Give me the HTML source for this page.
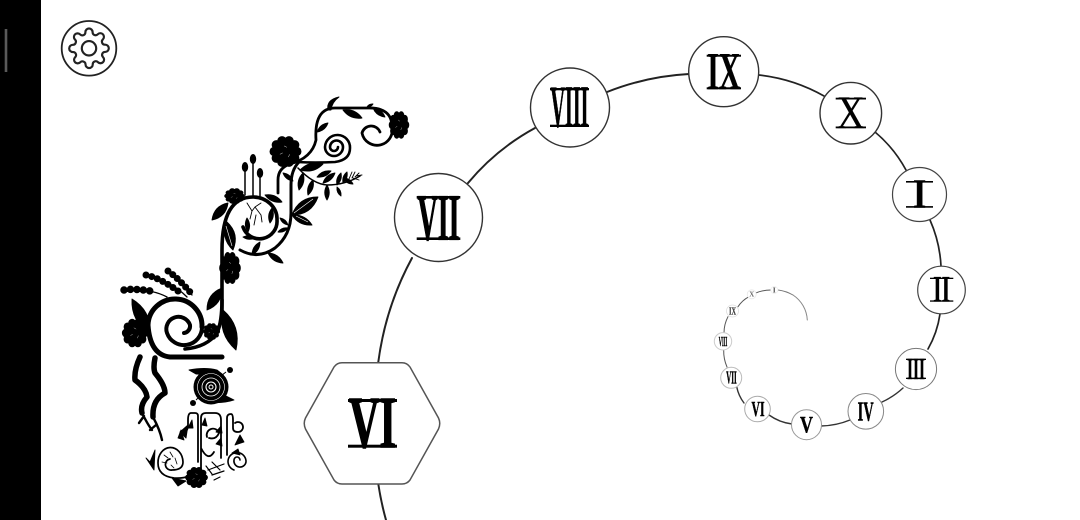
<!DOCTYPE html>
<html><head><meta charset="utf-8"><style>
html,body{margin:0;padding:0;background:#fff;width:1080px;height:520px;overflow:hidden}
svg{display:block}
.n{font-family:"Liberation Serif",serif;font-weight:bold;fill:#000;stroke:#000;text-anchor:middle}
.c{fill:#fff}
</style></head><body>
<svg width="1080" height="520" viewBox="0 0 1080 520" xmlns="http://www.w3.org/2000/svg">
<defs>
<g id="fl"><circle r="9.6"/><circle cx="8" r="3.4"/><circle cx="6.5" cy="4.7" r="3.4"/><circle cx="2.5" cy="7.6" r="3.4"/><circle cx="-2.5" cy="7.6" r="3.4"/><circle cx="-6.5" cy="4.7" r="3.4"/><circle cx="-8" r="3.4"/><circle cx="-6.5" cy="-4.7" r="3.4"/><circle cx="-2.5" cy="-7.6" r="3.4"/><circle cx="2.5" cy="-7.6" r="3.4"/><circle cx="6.5" cy="-4.7" r="3.4"/><path d="M-4 2l2-1M2 4l1-2M-1-4l2 1" stroke="#fff" stroke-width=".3" fill="none"/></g>
</defs>
<rect x="0" y="0" width="41" height="520" fill="#000"/>
<rect x="4.7" y="29" width="2.6" height="43" fill="#5a5a5a"/>

<circle cx="89" cy="48.3" r="27.3" fill="#fff" stroke="#222" stroke-width="1.8"/>
<g transform="translate(67.4,26.7) scale(1.8)" fill="none" stroke="#222" stroke-width="1.2" stroke-linejoin="round">
<path d="M19.4 15a1.65 1.65 0 0 0 .33 1.82l.06.06a2 2 0 0 1 0 2.83 2 2 0 0 1-2.83 0l-.06-.06a1.65 1.65 0 0 0-1.82-.33 1.65 1.65 0 0 0-1 1.51V21a2 2 0 0 1-2 2 2 2 0 0 1-2-2v-.09A1.65 1.65 0 0 0 9 19.4a1.65 1.65 0 0 0-1.82.33l-.06.06a2 2 0 0 1-2.83 0 2 2 0 0 1 0-2.83l.06-.06a1.65 1.65 0 0 0 .33-1.82 1.65 1.65 0 0 0-1.51-1H3a2 2 0 0 1-2-2 2 2 0 0 1 2-2h.09A1.65 1.65 0 0 0 4.6 9a1.65 1.65 0 0 0-.33-1.82l-.06-.06a2 2 0 0 1 0-2.83 2 2 0 0 1 2.83 0l.06.06a1.65 1.65 0 0 0 1.82.33H9a1.65 1.65 0 0 0 1-1.51V3a2 2 0 0 1 2-2 2 2 0 0 1 2 2v.09a1.65 1.65 0 0 0 1 1.51 1.65 1.65 0 0 0 1.82-.33l.06-.06a2 2 0 0 1 2.83 0 2 2 0 0 1 0 2.83l-.06.06a1.65 1.65 0 0 0-.33 1.82V9a1.65 1.65 0 0 0 1.51 1H21a2 2 0 0 1 2 2 2 2 0 0 1-2 2h-.09a1.65 1.65 0 0 0-1.51 1z"/>
<circle cx="12" cy="12" r="4"/>
</g>

<!-- spiral connector -->
<g fill="none" stroke="#222" stroke-linecap="round">
<g stroke-width="2">
<path d="M386 520A300 300 0 0 1 378.3 484"/>
<path d="M378.3 362A300 300 0 0 1 412 258"/>
<path d="M468 183A230 230 0 0 1 535 128"/>
<path d="M607 92A260 260 0 0 1 689 74"/>
</g>
<g stroke-width="1.7">
<path d="M759 75A170 170 0 0 1 824 96"/>
<path d="M875 132A130 130 0 0 1 906 170"/>
<path d="M930 220A130 130 0 0 1 941 266"/>
<path d="M940 314A100 100 0 0 1 928 349"/>
</g>
<g stroke-width="1.4" stroke="#333">
<path d="M903 388A80 80 0 0 1 882 402"/>
<path d="M850 420A80 80 0 0 1 821 426"/>
<path d="M792 424A50 50 0 0 1 769 415"/>
<path d="M744 403A40 40 0 0 1 736.7 386.7"/>
</g>
<g stroke-width="1" stroke="#555">
<path d="M727 367A40 40 0 0 1 723.7 350"/>
<path d="M724 332.7A35 35 0 0 1 728 316.7"/>
<path d="M738 306.7A30 30 0 0 1 749 296.7"/>
<path d="M755.7 293A40 40 0 0 1 771.7 290"/>
<path d="M778 290A40 40 0 0 1 793 295" stroke="#777"/>
<path d="M793 295A32 32 0 0 1 807.3 320" stroke="#888"/>
</g>
</g>

<!-- nodes -->
<path d="M342 362.7H402Q407 362.7 410 367L438.5 418Q441 423.3 438.5 429L410 480Q407 484 402 484H342Q337 484 334 480L305.5 429Q303 423.3 305.5 418L334 367Q337 362.7 342 362.7Z" fill="#fff" stroke="#555" stroke-width="1.5"/>
<g class="c" stroke="#333" stroke-width="1.4">
<circle cx="438.5" cy="217.5" r="44"/>
<circle cx="570" cy="107.5" r="39.5"/>
<circle cx="723.7" cy="71.7" r="35"/>
<circle cx="850.8" cy="113.2" r="30.8"/>
</g>
<g class="c" stroke="#444" stroke-width="1.2">
<circle cx="919.5" cy="194.5" r="27"/>
<circle cx="941.5" cy="290" r="23.8"/>
</g>
<g class="c">
<circle cx="916" cy="369" r="20.6" stroke="#777" stroke-width="1"/>
<circle cx="865.8" cy="411.3" r="17.8" stroke="#888" stroke-width="1"/>
<circle cx="806.5" cy="424.7" r="15" stroke="#999" stroke-width="1"/>
<circle cx="757.5" cy="409" r="12.8" stroke="#aaa" stroke-width="1"/>
<circle cx="731.2" cy="377.8" r="10.5" stroke="#bbb" stroke-width="1"/>
<circle cx="723" cy="341.3" r="8.7" stroke="#ccc" stroke-width="1"/>
<circle cx="732.5" cy="311" r="6" stroke="#ddd" stroke-width=".8"/>
<circle cx="751.7" cy="294.3" r="4.5" stroke="#e8e8e8" stroke-width=".8"/>
<circle cx="774.3" cy="290" r="3.5" stroke="#eee" stroke-width=".8"/>
</g>

<!-- numerals -->
<text class="n" stroke-width="1.6" x="372.5" y="447" font-size="73" textLength="47" lengthAdjust="spacingAndGlyphs">VI</text>
<rect x="348" y="399" width="49" height="3"/><rect x="348" y="444.7" width="49" height="3"/>
<text class="n" stroke-width="1.3" x="438.5" y="239.4" font-size="66" textLength="42" lengthAdjust="spacingAndGlyphs">VII</text>
<rect x="416.7" y="196" width="43.6" height="2.6"/><rect x="416.7" y="237.4" width="43.6" height="2.6"/>
<text class="n" stroke-width=".8" x="569.5" y="126.5" font-size="59" textLength="38" lengthAdjust="spacingAndGlyphs">VIII</text>
<rect x="550" y="88" width="39" height="2.3"/><rect x="550" y="124.7" width="39" height="2.3"/>
<text class="n" stroke-width=".5" x="723.8" y="89" font-size="53" textLength="33" lengthAdjust="spacingAndGlyphs">IX</text>
<rect x="706.7" y="54.7" width="34.3" height="2"/><rect x="706.7" y="87.3" width="34.3" height="2"/>
<text class="n" stroke-width=".3" style="font-weight:normal" x="850.8" y="128" font-size="47" textLength="28" lengthAdjust="spacingAndGlyphs">X</text>
<rect x="835.7" y="97.7" width="30.3" height="1.8"/><rect x="835.7" y="126.5" width="30.3" height="1.8"/>
<text class="n" stroke-width=".6" x="919.6" y="207.5" font-size="41" textLength="13" lengthAdjust="spacingAndGlyphs">I</text>
<rect x="906" y="181" width="27" height="1.6"/><rect x="906" y="206.1" width="27" height="1.6"/>
<text class="n" stroke-width=".2" x="941.6" y="301.7" font-size="36.6" textLength="17" lengthAdjust="spacingAndGlyphs">II</text>
<rect x="930" y="277.7" width="23.3" height="1.3"/><rect x="930" y="300.4" width="23.3" height="1.3"/>
<text class="n" stroke-width=".4" x="916" y="379" font-size="31" textLength="18" lengthAdjust="spacingAndGlyphs">III</text>
<rect x="906" y="358.7" width="20" height="1.3"/><rect x="906" y="377.7" width="20" height="1.3"/>
<text class="n" stroke-width=".5" x="865.6" y="420.3" font-size="27" textLength="16" lengthAdjust="spacingAndGlyphs">IV</text>
<text class="n" stroke-width=".4" x="806.5" y="432.5" font-size="23" textLength="13" lengthAdjust="spacingAndGlyphs">V</text>
<text class="n" stroke-width=".5" x="758" y="416" font-size="21" textLength="13" lengthAdjust="spacingAndGlyphs">VI</text>
<text class="n" stroke-width=".5" x="731.5" y="383.7" font-size="17.5" textLength="10.5" lengthAdjust="spacingAndGlyphs">VII</text>
<text class="n" stroke-width=".4" x="723" y="346" font-size="13.7" textLength="8.5" lengthAdjust="spacingAndGlyphs">VIII</text>
<text class="n" stroke-width=".2" x="732.5" y="314.5" font-size="10.7" textLength="7" lengthAdjust="spacingAndGlyphs" opacity=".8">IX</text>
<text class="n" stroke-width="0" x="751.7" y="296.5" font-size="7.6" textLength="5" lengthAdjust="spacingAndGlyphs" opacity=".6">X</text>
<text class="n" stroke-width="0" x="774.3" y="292.5" font-size="7.6" textLength="3" lengthAdjust="spacingAndGlyphs" opacity=".7">I</text>

<!-- botanical vines -->
<g fill="none" stroke="#000" stroke-linecap="round" stroke-linejoin="round">
<path stroke-width="2.8" d="M278 193V180Q278 168 290 164Q312 158 316 140Q314 108 335 108H367Q392 107 392 127A15 15 0 0 1 362 133A9.5 9.5 0 0 1 380 132"/>
<path stroke-width="2.6" d="M297 162Q315 163 335 162Q350 160 350 148A12.5 12.5 0 0 0 325 147A9 9 0 0 0 343 147A6.5 6.5 0 0 0 330 147A4 4 0 0 0 338 147"/>
<path stroke-width="3" d="M299 162Q291 170 291 185V213Q291 235 275 248Q258 260 240 250"/>
<path stroke-width="3.6" d="M222 312V250C222 215 232 197 253 197A24 22 0 0 1 277 220A17.5 17.5 0 0 1 243 227"/>
<path stroke-width="1.5" d="M298 168Q313 184 327 185Q345 185 360 176M245 170V195M253 161V195M260 175V196"/>
<path stroke-width=".9" d="M349 179l3-7M352 178l3-6M355 177l4-4M353 178l6 2M356 176l6-1M247 203l5 8 3-4 6-4M252 211l-2 8M255 207l6 8 1 7M256 215l-2 10"/>
<path stroke-width="5" d="M222 357H170Q150 355 148 325A27 27 0 0 1 202 327"/>
<path stroke-width="4" d="M202 327A18 18 0 0 1 167 333A12 12 0 0 1 190 325A7 7 0 0 1 184 333"/>
<path stroke-width="3.6" d="M185 349Q207 347 217 333Q222 322 222 300"/>
<path stroke-width="1.3" d="M123 290Q150 288 167 297M145 275Q170 280 187 297M168 270Q182 280 192 295"/>
<path stroke-width="7.5" stroke-dasharray="0 6.5" d="M124 290Q135 288 156 292"/>
<path stroke-width="7" stroke-dasharray="0 6" d="M146 275Q160 278 178 291"/>
<path stroke-width="7" stroke-dasharray="0 6" d="M168 271Q178 278 190 292"/>
<path stroke-width="5.5" d="M140 357Q134 370 135 380Q146 388 147 397Q140 405 142 413"/>
<path stroke-width="2.4" d="M142 413Q148 425 152 430M144 416L139 423"/>
<path stroke-width="5.5" d="M155 358Q153 368 155 373Q165 385 165 393Q152 400 153 417"/>
<path stroke-width="2.4" d="M153 417Q160 430 162 440M156 425L150 430"/>
<path stroke-width="1.8" d="M201 470V418Q201 413 206 413H215Q221 413 221 420V458M198 462V416Q198 413 195 413H191Q188 413 188 420V425Q188 432 182 433M227 455V418Q227 414 231 414Q233 414 233 420V428Q233 432 238 432A5 5 0 1 0 235 423M207 437A6 6 0 1 1 219 433Q216 440 209 438M201 448Q208 462 214 452"/>
<path stroke-width="1.7" d="M199 470Q190 479 174 478Q158 476 158 463A12.5 15 0 0 1 183 462Q183 470 172 470A5 5 0 0 1 170 459"/>
<path stroke-width="1.6" d="M234 470A9 9 0 1 1 246 462A6 6 0 0 1 234 460A3 3 0 0 1 240 460"/>
<path stroke-width="1.2" d="M208 470l16-6M212 475l12-4M214 480l6-3M212 462l8 8M206 466l6 8"/>
<path stroke-width=".8" d="M164 455l4 3M170 452l3 5M175 458l2 6M162 462l5 1M171 465l3 3"/>
</g>

<g fill="#000" stroke="#000" stroke-width=".9" stroke-linejoin="round">
<path d="M328 110Q326 100 339 97Q332 102 331 110Z"/>
<path d="M343 110Q350.1 119.7 362 118Q354.9 108.3 343 110Z"/>
<path d="M367 107Q370.9 107.3 373 104Q369.1 103.7 367 107Z"/>
<path d="M373 108Q376.3 116.1 385 117Q381.7 108.9 373 108Z"/>
<path d="M317 132Q325.2 130.8 328 123Q319.8 124.2 317 132Z"/>
<path d="M300 170Q313.3 173.9 323 164Q309.7 160.1 300 170Z"/>
<path d="M283 173Q285.6 180 293 181Q290.4 174 283 173Z"/>
<path d="M317 177Q325.8 178.2 331 171Q322.2 169.8 317 177Z"/>
<path d="M323 183Q332 181.6 335 173Q326 174.4 323 183Z"/>
<path d="M303 173Q295.9 180.3 299 190Q306.1 182.7 303 173Z"/>
<path d="M313 180Q306 186 308 195Q315 189 313 180Z"/>
<path d="M327 185Q322.5 192.5 327 200Q331.5 192.5 327 185Z"/>
<path d="M337 187Q336.3 192.7 341 196Q341.7 190.3 337 187Z"/>
<path d="M337 185Q342.6 180.2 341 173Q335.4 177.8 337 185Z"/>
<path d="M343 183Q348.3 178.7 347 172Q341.7 176.3 343 183Z"/>
<path d="M343 178Q346.2 184 353 184Q349.8 178 343 178Z"/>
<path d="M292 215Q311.3 215.1 318 197Q298.7 196.9 292 215Z"/>
<path d="M292 215Q299 226 312 225Q305 214 292 215Z"/>
<path d="M280 218Q281.9 223.9 288 225Q286.1 219.1 280 218Z"/>
<path d="M278 232Q284.2 233 288 228Q281.8 227 278 232Z"/>
<path d="M268 253Q272.5 262.5 283 263Q278.5 253.5 268 253Z"/>
<path d="M252 255Q259.9 250.9 260 242Q252.1 246.1 252 255Z"/>
<path d="M243 237Q248.7 241.1 255 238Q249.3 233.9 243 237Z"/>
<path d="M227 222Q220.2 238.1 233 250Q239.8 233.9 227 222Z"/>
<path d="M212 220Q226 217.1 228 203Q214 205.9 212 220Z"/>
<path d="M265 195Q271.4 203.6 282 202Q275.6 193.4 265 195Z"/>
<path d="M247 218Q243.3 225.3 248 232Q251.7 224.7 247 218Z"/>
<path d="M272 208Q266.5 214.9 270 223Q275.5 216.1 272 208Z"/>
<path d="M207 310Q222.2 304.25 222 288Q206.8 293.75 207 310Z"/>
<path d="M223 310Q217.5 333.9 236 350Q241.5 326.1 223 310Z"/>
<path d="M132 299Q130.8 321.4 150 333Q151.2 310.6 132 299Z"/>
<path d="M189 370Q205 367 217 370L222 374H196Z"/>
<path d="M207 402Q222 404 234 400L224 395H202Z"/>
<path d="M155 450L150 462L146 458L154 470Z"/>
<path d="M172 478L186 481L178 486Z"/>
<path d="M188 425L180 432L186 438ZM240 435L235 445L244 442Z"/>
<path d="M181 430L184 440L178 438ZM192 420L188 428L193 428ZM205 418L207 426L202 425ZM221 426L216 432L222 433ZM221 438L216 444L222 446ZM232 453L238 449L240 455Z"/>
</g>
<g fill="#000">
<use href="#fl" transform="translate(285.5,151.5) scale(1.4,1.4)"/>
<use href="#fl" transform="translate(399,125) scale(.9,1.25)"/>
<use href="#fl" transform="translate(234.5,196) scale(.9,.7)"/>
<use href="#fl" transform="translate(230,268) scale(.95,1.45)"/>
<use href="#fl" transform="translate(135,333) scale(1.15,1.3)"/>
<use href="#fl" transform="translate(211.5,331.5) scale(.75)"/>
<use href="#fl" transform="translate(196.5,477.5) scale(1,.95)"/>
<ellipse cx="245" cy="167" rx="3.2" ry="5"/>
<ellipse cx="253" cy="159" rx="3.2" ry="5"/>
<ellipse cx="260" cy="173" rx="3.2" ry="5"/>
<circle cx="230" cy="370" r="3"/>
<circle cx="193" cy="403" r="3"/>
<path d="M226 372L217 379M196 400L203 393" stroke="#000" stroke-width="1"/>
<circle cx="211" cy="387" r="17.5"/>
</g>
<g fill="none" stroke="#fff">
<circle cx="211" cy="387" r="13.5" stroke-width=".6"/>
<circle cx="211" cy="387" r="9" stroke-width=".8"/>
<circle cx="211" cy="387" r="5" stroke-width="1.1"/>
<circle cx="211" cy="387" r="2" stroke-width="1"/>
<path d="M294 213L313 199M296 216L308 222M226 226L232 246" stroke-width=".6"/>
</g>
</svg>
</body></html>
